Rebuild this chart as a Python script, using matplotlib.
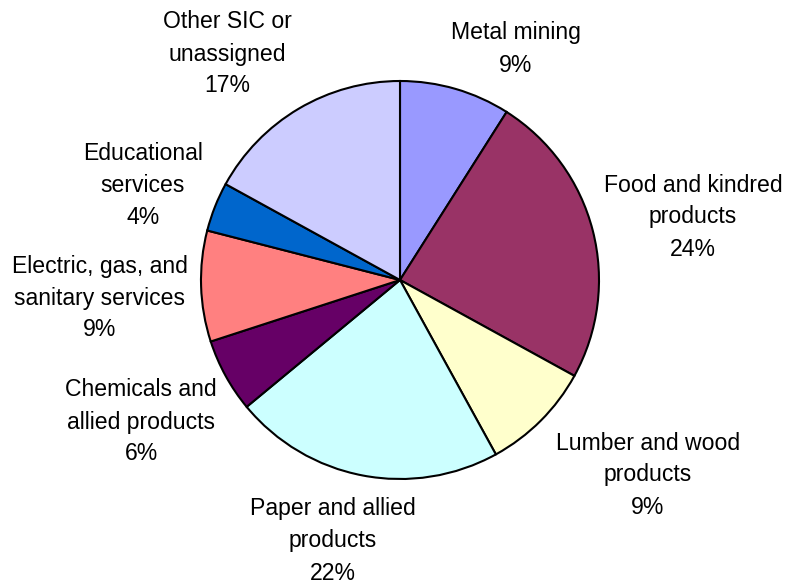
import matplotlib
matplotlib.use('Agg')
import matplotlib.pyplot as plt

plt.rcParams['font.family'] = ['Liberation Sans', 'DejaVu Sans']

# share of facilities by industry group (percent)
sectors = ['Metal mining', 'Food and kindred\nproducts', 'Lumber and wood\nproducts',
           'Paper and allied\nproducts', 'Chemicals and\nallied products',
           'Electric, gas, and\nsanitary services', 'Educational\nservices',
           'Other SIC or\nunassigned']
shares = [9, 24, 9, 22, 6, 9, 4, 17]
colors = ['#9999FF', '#993366', '#FFFFCC', '#CCFFFF', '#660066', '#FF8080', '#0066CC', '#CCCCFF']

# label block centres in pixel space (origin top-left)
label_xy = [(516, 49), (693, 217), (648, 475), (333, 541),
            (141, 422), (100, 298), (143, 186), (227, 54)]

W, H = 786, 585
fig = plt.figure(figsize=(W / 100, H / 100), dpi=100)
ax = fig.add_axes([0, 0, 1, 1])
ax.axis('off')

ax.pie(shares, colors=colors, startangle=90, counterclock=False,
       center=(400, H - 280), radius=199,
       wedgeprops=dict(edgecolor='black', linewidth=1.5))
ax.set_xlim(0, W)
ax.set_ylim(0, H)
ax.set_aspect('equal')

for name, val, (x, y) in zip(sectors, shares, label_xy):
    ax.text(x, H - y, f'{name}\n{val}%', ha='center', va='center',
            multialignment='center', fontsize=16.6, linespacing=1.5)

fig.savefig('out.png', dpi=100)
